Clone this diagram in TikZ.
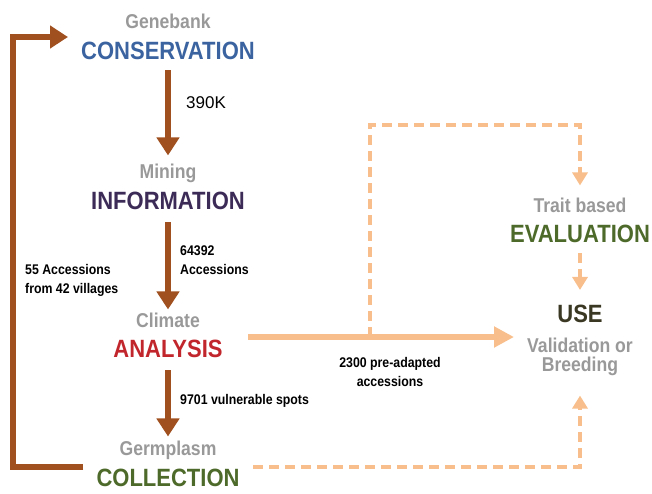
\documentclass[tikz,border=0pt]{standalone}
\usepackage{fontspec}
\setmainfont{Liberation Sans}[FakeStretch=0.88]
\newfontfamily\plainfont{Liberation Sans}
\usetikzlibrary{arrows.meta}

\definecolor{rust}{HTML}{A0501F}
\definecolor{peach}{HTML}{F8BF8C}
\definecolor{mist}{HTML}{999999}
\definecolor{consblue}{HTML}{3A63A0}
\definecolor{infopurple}{HTML}{3C2B56}
\definecolor{anared}{HTML}{C2262D}
\definecolor{leafgreen}{HTML}{4E6A2A}
\definecolor{useolive}{HTML}{3A3822}

\begin{document}
\begin{tikzpicture}[x=1pt, y=-1pt,
    stage/.style={inner sep=0pt, font=\bfseries\fontsize{25}{25}\selectfont},
    sub/.style={inner sep=0pt, text=mist, font=\bfseries\fontsize{20}{20}\selectfont},
    note/.style={inner sep=0pt, align=left, font=\bfseries\fontsize{14}{19}\selectfont},
    flow/.style={rust, line width=6pt, -{Triangle[length=18pt, width=22pt]}},
    feed/.style={peach, line width=6pt, -{Triangle[length=20pt, width=20pt]}},
    trial/.style={peach, line width=4.5pt, dash pattern=on 10pt off 6pt, -{Triangle[length=13pt, width=15pt]}}]
    \useasboundingbox (0, 0) rectangle (652, 493);

    % main chain
    \node[sub] (genebank) at (168, 21) {Genebank};
    \node[stage, text=consblue] (conservation) at (168, 51) {CONSERVATION};
    \node[sub] (mining) at (168, 173) {Mining};
    \node[stage, text=infopurple] (information) at (168, 201) {INFORMATION};
    \node[sub] (climate) at (168, 320) {Climate};
    \node[stage, text=anared] (analysis) at (168, 349) {ANALYSIS};
    \node[sub] (germplasm) at (168, 450) {Germplasm};
    \node[stage, text=leafgreen] (collection) at (168, 478) {COLLECTION};

    % right column
    \node[sub] (trait) at (580, 205) {Trait based};
    \node[stage, text=leafgreen] (evaluation) at (580, 234) {EVALUATION};
    \node[stage, text=useolive] (use) at (580, 314) {USE};
    \node[sub] (validation) at (580, 345) {Validation or};
    \node[sub] (breeding) at (580, 366) {Breeding};

    % counts
    \node[inner sep=0pt, anchor=west, font=\plainfont\fontsize{17}{17}\selectfont] (k390) at (186, 103) {390K};
    \node[note, anchor=west] (n64392) at (180, 260) {64392\\Accessions};
    \node[note, anchor=west] (n55) at (25, 280) {55 Accessions\\from 42 villages};
    \node[note, anchor=west] (n9701) at (180, 401) {9701 vulnerable spots};
    \node[note, align=center] (n2300) at (390, 372) {2300 pre-adapted\\accessions};

    \coordinate (loopout) at (83, 467);
    \coordinate (loopin) at (68, 37);
    \coordinate (preout) at (248, 337);
    \coordinate (prein) at (514, 337);
    \coordinate (branch) at (370, 337);
    \coordinate (collout) at (253, 467);

    \draw[flow, shorten <=10pt, shorten >=8pt] (conservation) -- (mining);
    \draw[flow, shorten <=12pt, shorten >=3pt] (information) -- (climate);
    \draw[flow, shorten <=12pt, shorten >=4pt] (analysis) -- (germplasm);

    \draw[flow] (loopout) -- ++(-70, 0) |- (loopin);

    \draw[feed] (preout) -- (prein);
    \draw[trial, shorten >=12pt] (branch) -- ++(0, -212) -| (trait.north);
    \draw[trial, shorten <=10pt, shorten >=15pt] (evaluation) -- (use);
    \draw[trial, shorten >=20pt] (collout) -| (breeding.south);
\end{tikzpicture}
\end{document}
